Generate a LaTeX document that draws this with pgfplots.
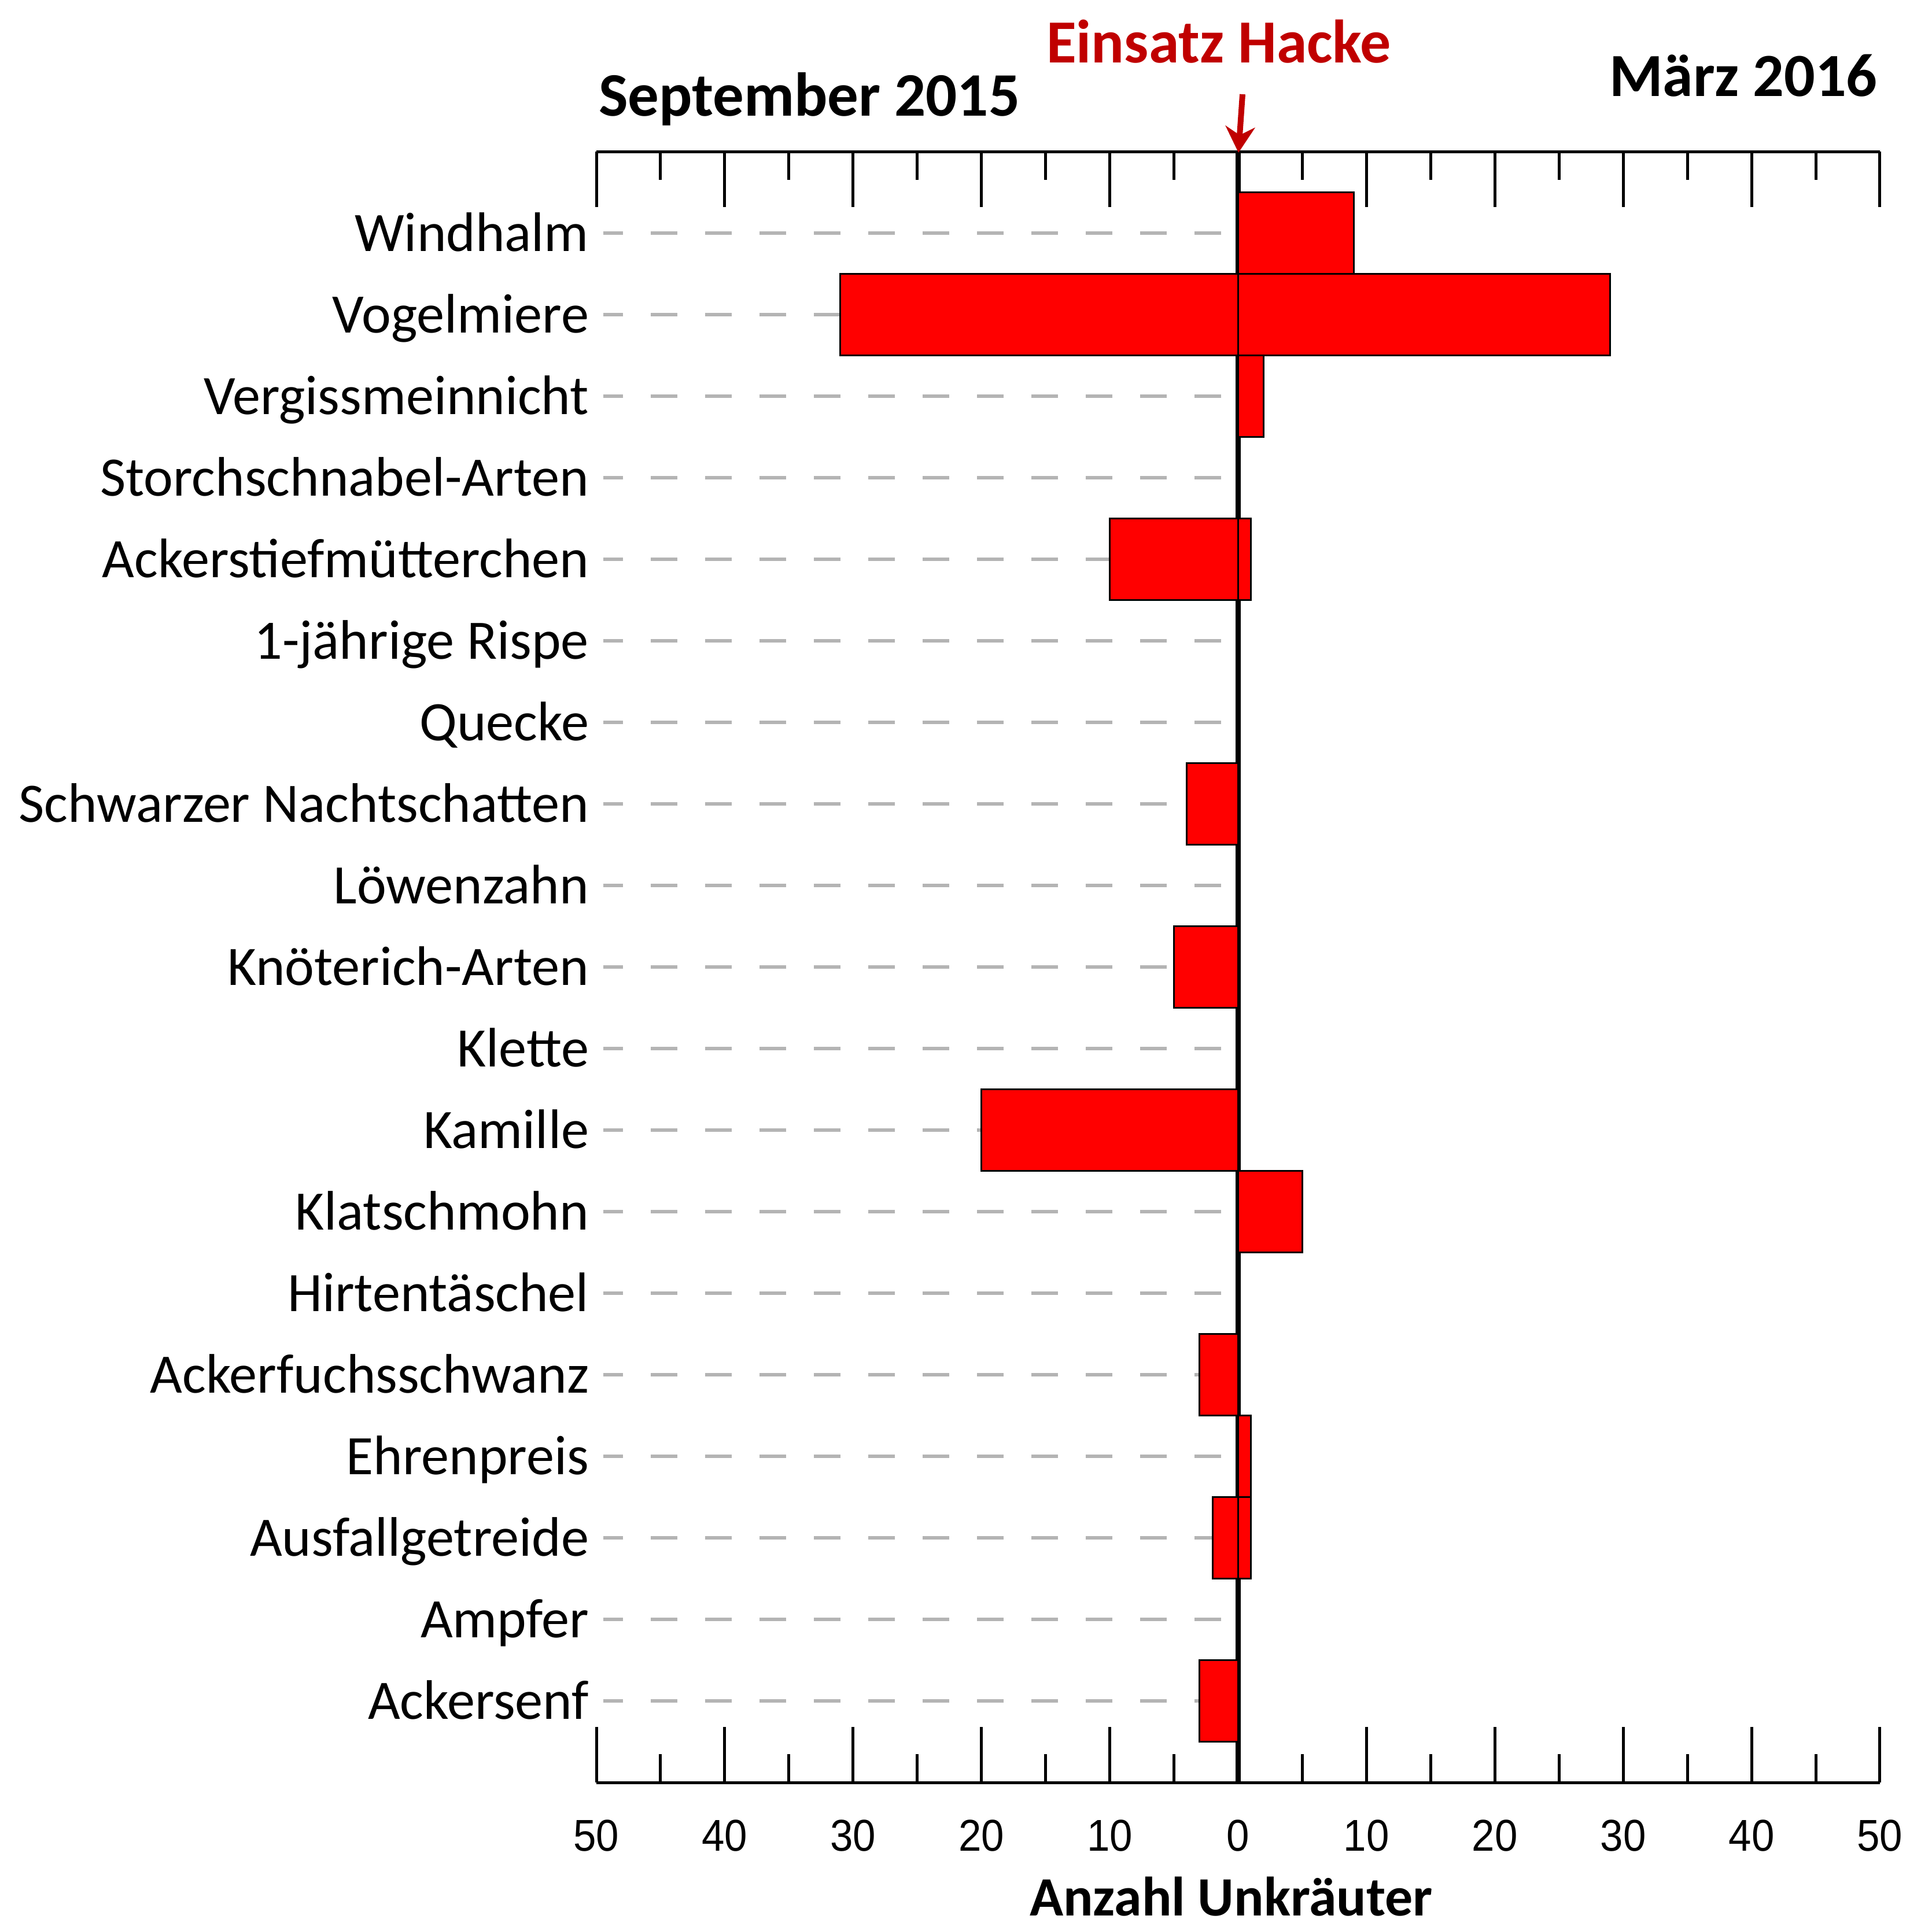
\documentclass[border=0pt]{standalone}
\usepackage{pgfplots}
\pgfplotsset{compat=1.18}
\usepackage{fontspec}
\setmainfont{Carlito}
\newfontfamily\ticfont[FakeStretch=0.92]{Liberation Sans}
\usetikzlibrary{arrows.meta}
\definecolor{hackered}{HTML}{C00000}
\definecolor{dashgray}{HTML}{B4B4B4}
\begin{document}
\begin{tikzpicture}
\useasboundingbox (0,0) rectangle (334pt,332.4pt);
\begin{axis}[
  at={(103.1pt,24.2pt)}, anchor=south west,
  scale only axis, width=221.9pt, height=282pt,
  xmin=-50, xmax=50, ymin=0, ymax=20,
  separate axis lines,
  x axis line style={line width=0.5pt, black},
  y axis line style={draw=none},
  xtick={-50,-40,-30,-20,-10,0,10,20,30,40,50},
  xticklabels={50,40,30,20,10,0,10,20,30,40,50},
  minor xtick={-45,-35,-25,-15,-5,5,15,25,35,45},
  tick align=inside,
  major tick length=9.6pt, minor tick length=4.9pt,
  xtick style={line width=0.5pt, black},
  minor tick style={line width=0.5pt, black},
  xticklabel style={font=\ticfont\fontsize{7.7}{8}\selectfont, inner sep=0pt, anchor=north, yshift=-6.3pt},
  ytick={1,...,19},
  yticklabels={Ackersenf, Ampfer, Ausfallgetreide, Ehrenpreis, Ackerfuchsschwanz, Hirtentäschel, Klatschmohn, Kamille, Klette, Knöterich-Arten, Löwenzahn, Schwarzer Nachtschatten, Quecke, 1-jährige Rispe, Ackerstiefmütterchen, Storchschnabel-Arten, Vergissmeinnicht, Vogelmiere, Windhalm},
  ytick style={draw=none},
  yticklabel style={font=\fontsize{9.63}{11}\selectfont, inner sep=0pt, anchor=east, text height=6.2pt, text depth=0pt, xshift=-1.1pt},
  clip=false,
]
% dashed guide lines
\addplot[xcomb, dashgray, line width=0.6pt, dash pattern=on 4.6pt off 4.8pt, dash phase=6.5pt, mark=none] coordinates {
(-49.45,1) (-49.45,2) (-49.45,3) (-49.45,4) (-49.45,5) (-49.45,6) (-49.45,7) (-49.45,8) (-49.45,9) (-49.45,10)
(-49.45,11) (-49.45,12) (-49.45,13) (-49.45,14) (-49.45,15) (-49.45,16) (-49.45,17) (-49.45,18) (-49.45,19)};
% zero line
\addplot[black, line width=0.9pt, mark=none] coordinates {(0,0) (0,20)};
% September 2015 (left)
\addplot[xbar, bar width=1, bar shift=0pt, fill=red, draw=black, line width=0.3pt] coordinates {
(-31,18) (-10,15) (-4,12) (-5,10) (-20,8) (-3,5) (-2,3) (-3,1)};
% März 2016 (right)
\addplot[xbar, bar width=1, bar shift=0pt, fill=red, draw=black, line width=0.3pt] coordinates {
(9,19) (29,18) (2,17) (1,15) (5,7) (1,4) (1,3)};
\end{axis}
\node[anchor=base west, inner sep=0pt, font=\bfseries\fontsize{10.7}{12}\selectfont] at (103.3pt,312.3pt) {September 2015};
\node[anchor=base west, inner sep=0pt, font=\bfseries\fontsize{10.6}{12}\selectfont, text=hackered] at (180.7pt,321.5pt) {Einsatz Hacke};
\node[anchor=base west, inner sep=0pt, font=\bfseries\fontsize{10.6}{12}\selectfont] at (278.0pt,315.7pt) {März 2016};
\node[anchor=base west, inner sep=0pt, font=\bfseries\fontsize{9.6}{11}\selectfont] at (177.8pt,1.2pt) {Anzahl Unkräuter};
\draw[hackered, line width=1pt, -{Stealth[length=4.5pt, width=5.1pt]}] (214.8pt,316.1pt) -- (214.1pt,306.0pt);
\end{tikzpicture}
\end{document}
